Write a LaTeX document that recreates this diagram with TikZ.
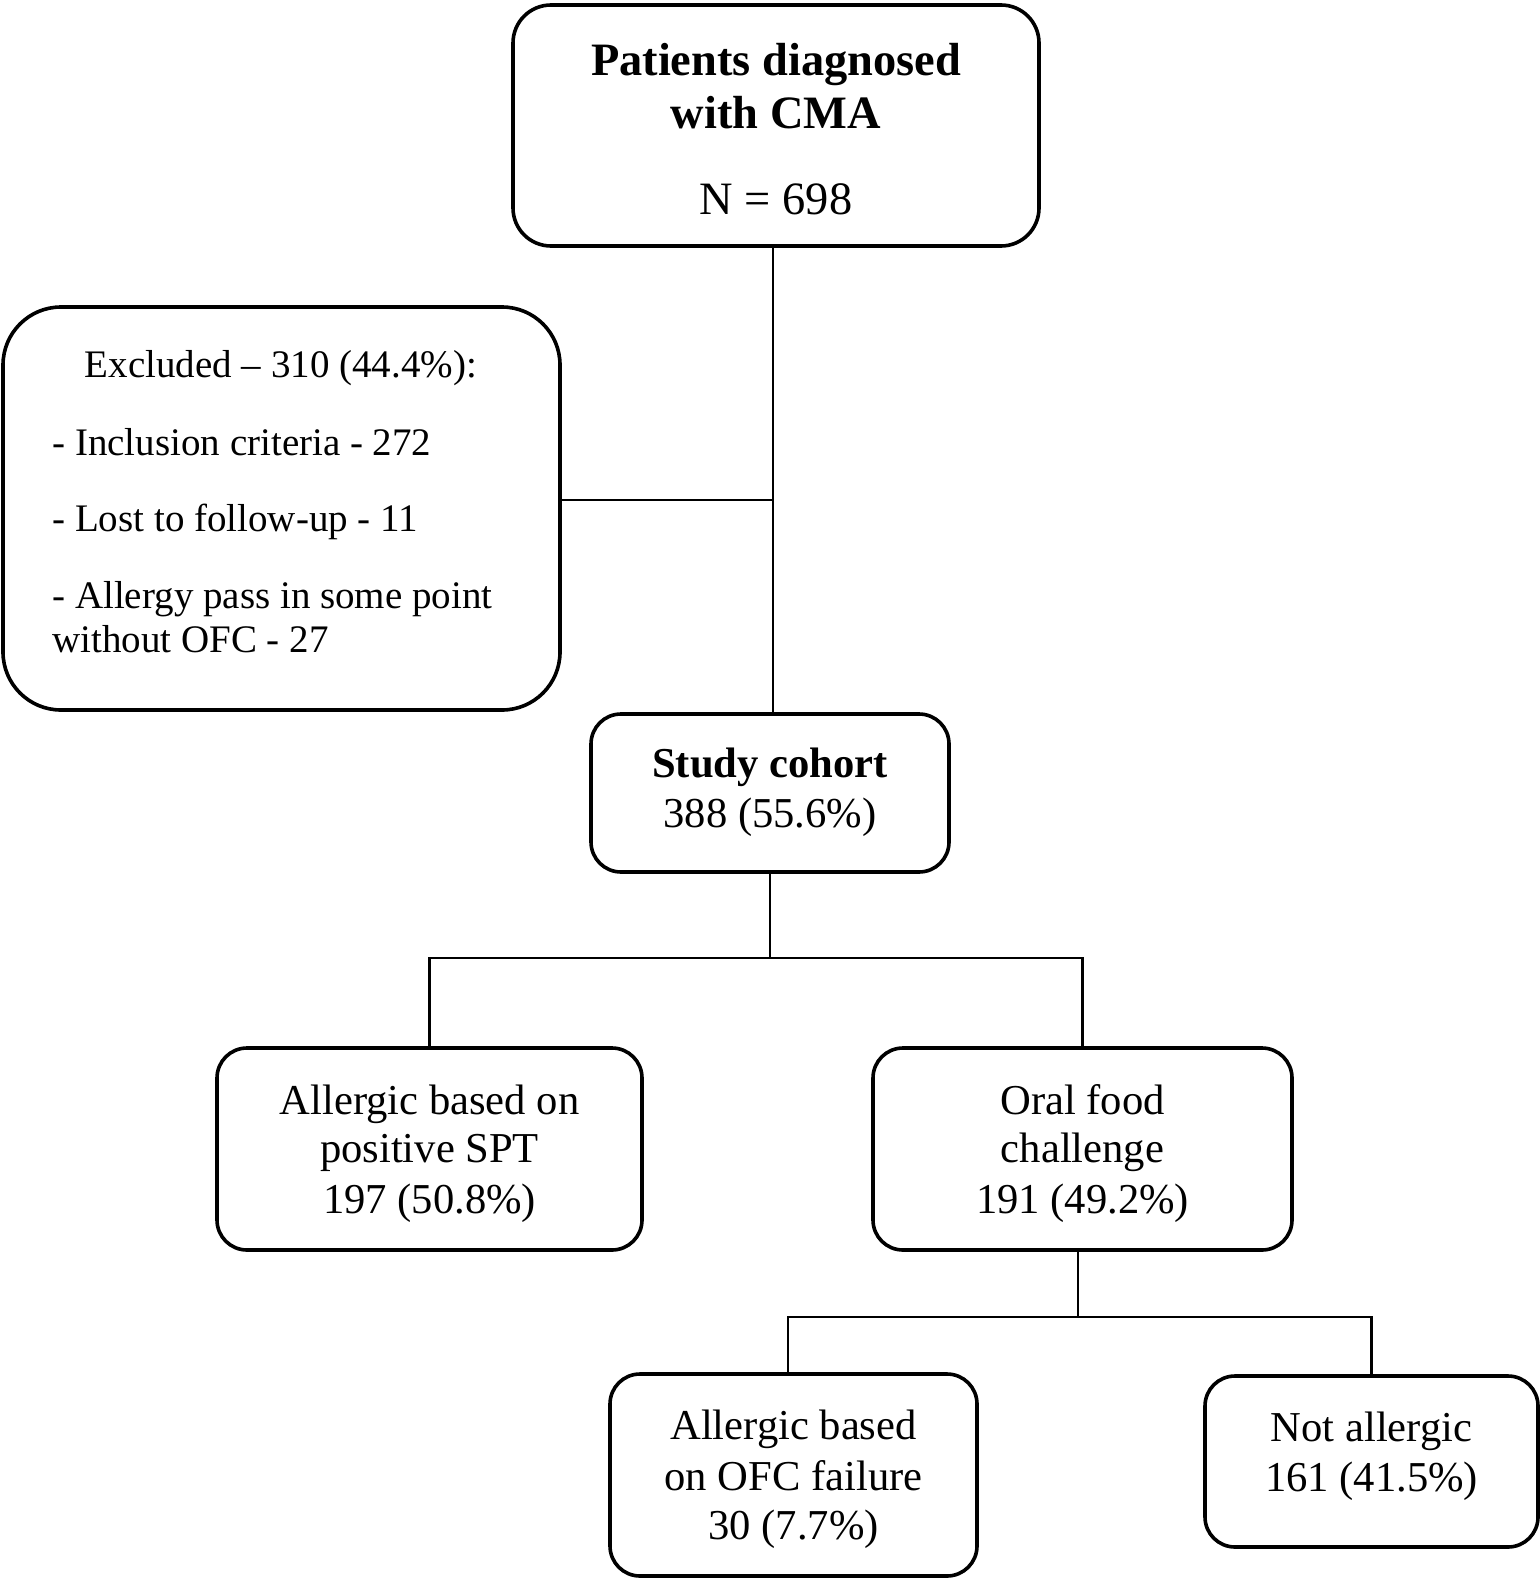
\documentclass[tikz,border=0pt]{standalone}
\usepackage{fontspec}
\setmainfont{Liberation Serif}
\begin{document}
\begin{tikzpicture}[x=0.5pt,y=-0.5pt,
  box/.style={draw, line width=1.8pt, inner sep=0pt, rectangle},
  conn/.style={line width=1.1pt},
  txt/.style={anchor=base, inner sep=0pt},
  big/.style={font=\fontsize{23.2pt}{27pt}\selectfont},
  mid/.style={font=\fontsize{21.3pt}{25pt}\selectfont},
  sml/.style={font=\fontsize{19.5pt}{23pt}\selectfont}]
\useasboundingbox (0,0) rectangle (1540,1578);

% boxes
\node[box, rounded corners=19pt, minimum width=263pt, minimum height=120.5pt] (top) at (776,125.5) {};
\node[box, rounded corners=29pt, minimum width=278.5pt, minimum height=201.5pt] (excl) at (281.5,508.5) {};
\node[box, rounded corners=15pt, minimum width=179pt, minimum height=79pt] (study) at (770,793) {};
\node[box, rounded corners=15pt, minimum width=212.5pt, minimum height=101pt] (spt) at (429.5,1149) {};
\node[box, rounded corners=15pt, minimum width=209.5pt, minimum height=101pt] (ofc) at (1082.5,1149) {};
\node[box, rounded corners=15pt, minimum width=183.5pt, minimum height=101pt] (aofc) at (793.5,1475) {};
\node[box, rounded corners=15pt, minimum width=166.5pt, minimum height=85.5pt] (notall) at (1371.5,1461.5) {};

% texts
\node[txt, big] (t1) at (776,75.5) {\bfseries Patients diagnosed};
\node[txt, big] (t2) at (776,129) {\bfseries with CMA};
\node[txt, big] (t3) at (776,215) {N = 698};

\node[txt, sml, anchor=base west] (e1) at (84.5,377) {Excluded – 310 (44.4\%):};
\node[txt, sml, anchor=base west] (e2) at (52,455) {- Inclusion criteria - 272};
\node[txt, sml, anchor=base west] (e3) at (52,531) {- Lost to follow-up - 11};
\node[txt, sml, anchor=base west] (e4) at (52,608) {- Allergy pass in some point};
\node[txt, sml, anchor=base west] (e5) at (52,652) {without OFC - 27};

\node[txt, mid] (s1) at (770,777) {\bfseries Study cohort};
\node[txt, mid] (s2) at (770,827) {388 (55.6\%)};

\node[txt, mid] (p1) at (429.5,1114) {Allergic based on};
\node[txt, mid] (p2) at (429.5,1162.5) {positive SPT};
\node[txt, mid] (p3) at (429.5,1213) {197 (50.8\%)};

\node[txt, mid] (o1) at (1082.5,1114) {Oral food};
\node[txt, mid] (o2) at (1082.5,1162.5) {challenge};
\node[txt, mid] (o3) at (1082.5,1213) {191 (49.2\%)};

\node[txt, mid] (a1) at (793.5,1439) {Allergic based};
\node[txt, mid] (a2) at (793.5,1490) {on OFC failure};
\node[txt, mid] (a3) at (793.5,1539) {30 (7.7\%)};

\node[txt, mid] (n1) at (1371.5,1441) {Not allergic};
\node[txt, mid] (n2) at (1371.5,1491) {161 (41.5\%)};

% connectors
\coordinate (j1) at (773,500);
\coordinate (j2) at (770,958);
\coordinate (j3) at (1078,1317);
\draw[conn] (top.south -| j1) -- (study.north -| j1);
\draw[conn] (excl.east |- j1) -- (j1);
\draw[conn] (study.south) -- (j2);
\draw[conn] (spt.north) |- (j2) -| (ofc.north);
\draw[conn] (ofc.south -| j3) -- (j3);
\draw[conn] (aofc.north -| 788,0) |- (j3) -| (notall.north);
\end{tikzpicture}
\end{document}
